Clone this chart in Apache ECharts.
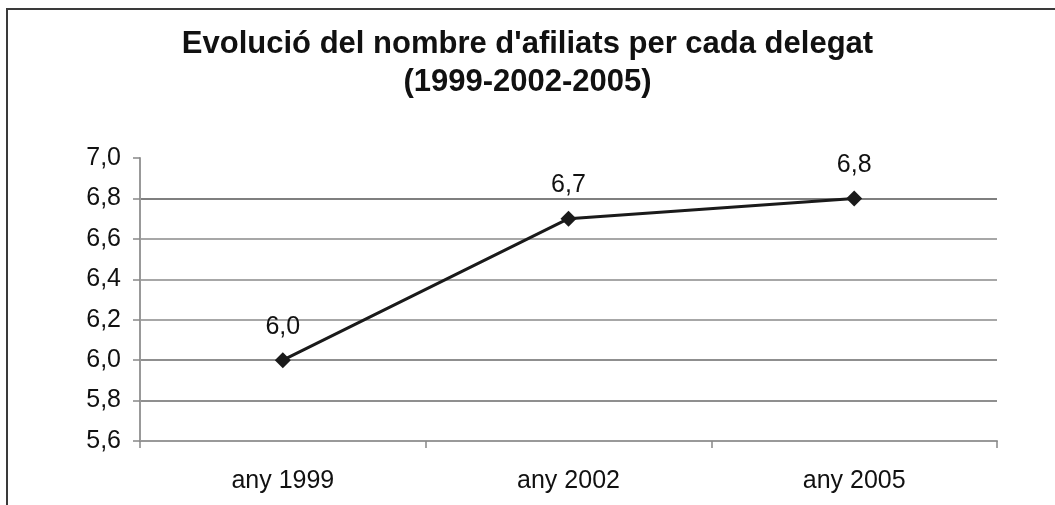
<!DOCTYPE html>
<html>
<head>
<meta charset="utf-8">
<script src="https://cdn.jsdelivr.net/npm/echarts@6/dist/echarts.min.js"></script>
<style>
html,body{margin:0;padding:0;background:#fff;}
#chart{width:1055px;height:505px;}
</style>
</head>
<body>
<div id="chart"></div>
<script>
const titleText = "Evolució del nombre d'afiliats per cada delegat\n(1999-2002-2005)";
const categories = ["any 1999", "any 2002", "any 2005"];
const values = [6.0, 6.7, 6.8];
const yMin = 5.6, yMax = 7.0, yStep = 0.2;

const chart = echarts.init(document.getElementById('chart'), null, {renderer: 'canvas'});
const fmt = v => v.toFixed(1).replace('.', ',');
const gridColors = ['#7a7a7a','#6a6a6a','#6a6a6a','#8a8a8a','#8a8a8a','#8a8a8a','#555555','rgba(0,0,0,0)'];
chart.setOption({
  backgroundColor: '#ffffff',
  animation: false,
  graphic: [{
    type: 'rect',
    shape: {x: 7, y: 9, width: 1060, height: 510},
    style: {fill: 'none', stroke: '#3a3a3a', lineWidth: 2},
    silent: true
  }],
  title: {
    text: titleText,
    left: 'center',
    top: 20,
    textStyle: {
      fontFamily: 'Liberation Sans, Arial, sans-serif',
      fontSize: 31,
      fontWeight: 'bold',
      color: '#111',
      lineHeight: 38
    }
  },
  grid: {left: 140, right: 58, top: 158, bottom: 64, containLabel: false},
  xAxis: {
    type: 'category',
    data: categories,
    boundaryGap: true,
    axisLine: {lineStyle: {color: '#999', width: 2}},
    axisTick: {show: true, length: 7, lineStyle: {color: '#888', width: 1.5}},
    axisLabel: {
      fontFamily: 'Liberation Sans, Arial, sans-serif',
      fontSize: 25, color: '#111', margin: 28
    },
    splitLine: {show: false}
  },
  yAxis: {
    type: 'value',
    min: yMin, max: yMax, interval: yStep,
    axisLine: {show: true, lineStyle: {color: '#999', width: 2}},
    axisTick: {show: true, length: 7, lineStyle: {color: '#888', width: 1.5}},
    axisLabel: {
      fontFamily: 'Liberation Sans, Arial, sans-serif',
      fontSize: 25, color: '#111', margin: 19,
      formatter: fmt
    },
    splitLine: {
      show: true,
      lineStyle: {color: gridColors, width: 1.5}
    }
  },
  series: [{
    type: 'line',
    data: values,
    symbol: 'diamond',
    symbolSize: 16,
    lineStyle: {color: '#1a1a1a', width: 3},
    itemStyle: {color: '#1a1a1a'},
    label: {
      show: true, position: 'top', distance: 13,
      fontFamily: 'Liberation Sans, Arial, sans-serif',
      fontSize: 25, color: '#111',
      formatter: p => fmt(p.value)
    }
  }]
});
</script>
</body>
</html>
